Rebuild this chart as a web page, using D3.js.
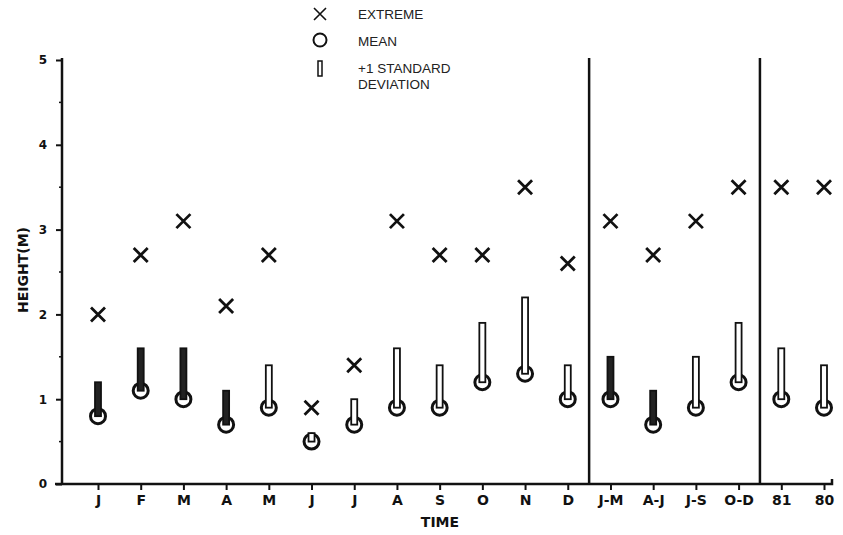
<!DOCTYPE html>
<html><head><meta charset="utf-8">
<script src="https://cdn.jsdelivr.net/npm/d3@7/dist/d3.min.js"></script>
<style>
body{margin:0;background:#fff;}
svg{display:block;}
.tk{font-family:"DejaVu Sans",sans-serif;font-weight:bold;font-size:13px;fill:#111;}
.lg{font-family:"Liberation Sans",Arial,sans-serif;font-size:13.5px;fill:#222;}
</style></head>
<body>
<svg id="c" width="843" height="535"></svg>
<script>
const categories = ["J","F","M","A","M","J","J","A","S","O","N","D","J-M","A-J","J-S","O-D","81","80"];
const meanValues = [0.8,1.1,1.0,0.7,0.9,0.5,0.7,0.9,0.9,1.2,1.3,1.0,1.0,0.7,0.9,1.2,1.0,0.9];
const sdTopValues = [1.2,1.6,1.6,1.1,1.4,0.6,1.0,1.6,1.4,1.9,2.2,1.4,1.5,1.1,1.5,1.9,1.6,1.4];
const extremeValues = [2.0,2.7,3.1,2.1,2.7,0.9,1.4,3.1,2.7,2.7,3.5,2.6,3.1,2.7,3.1,3.5,3.5,3.5];
const yTicks = [0,1,2,3,4,5];
const separatorIdx = [11,15];
const darkBars = [0,1,2,3,12,13];

const svg = d3.select("#c");
const ink = "#111";
const idx = categories.map((d,i)=>i);
const x = d3.scalePoint().domain(idx).range([98,824]);
const y = d3.scaleLinear().domain([0,5]).range([484,60]);

// Y axis
const yAxis = d3.axisLeft(y).tickValues(yTicks).tickFormat(d3.format("d")).tickSize(6).tickPadding(9);
const gy = svg.append("g").attr("transform","translate(62,0)").call(yAxis);
gy.select(".domain").attr("stroke",ink).attr("stroke-width",2.5).attr("d","M0,58V484");
gy.selectAll(".tick line").attr("stroke",ink).attr("stroke-width",2);
gy.selectAll(".tick text").attr("class","tk").style("font-size","12px");
// minor ticks
svg.append("g").selectAll("line").data([0.5,1.5,2.5,3.5,4.5]).join("line")
  .attr("x1",59).attr("x2",62).attr("y1",d=>y(d)).attr("y2",d=>y(d))
  .attr("stroke",ink).attr("stroke-width",1.5);

// X axis
const xAxis = d3.axisBottom(x).tickFormat(i=>categories[i]).tickSize(6).tickPadding(5);
const gx = svg.append("g").attr("transform","translate(0,484)").call(xAxis);
gx.select(".domain").attr("stroke",ink).attr("stroke-width",2.5).attr("d","M55,0H832V-5");
gx.selectAll(".tick line").attr("stroke",ink).attr("stroke-width",2);
gx.selectAll(".tick text").attr("class","tk").style("font-size","14px");

// separators
svg.append("g").selectAll("line").data(separatorIdx).join("line")
  .attr("x1",d=>(x(d)+x(d+1))/2).attr("x2",d=>(x(d)+x(d+1))/2)
  .attr("y1",58).attr("y2",484).attr("stroke",ink).attr("stroke-width",2.5);

// axis titles
svg.append("text").attr("class","tk").attr("transform","translate(28,270) rotate(-90)")
  .attr("text-anchor","middle").style("font-size","14px").text("HEIGHT(M)");
svg.append("text").attr("class","tk").attr("x",440).attr("y",527)
  .attr("text-anchor","middle").style("font-size","14px").text("TIME");

// marks
const g = svg.append("g");
// mean circles
g.selectAll("circle.mean").data(idx).join("circle").attr("class","mean")
  .attr("cx",i=>x(i)).attr("cy",i=>y(meanValues[i])).attr("r",7.5)
  .attr("fill","#fff").attr("stroke",ink).attr("stroke-width",3);
// sd bars
g.selectAll("rect.sd").data(idx).join("rect").attr("class","sd")
  .attr("x",i=>x(i)-3).attr("width",6)
  .attr("y",i=>y(sdTopValues[i])).attr("height",i=>y(meanValues[i])-y(sdTopValues[i]))
  .attr("fill",i=>darkBars.includes(i)?"#222":"#fff").attr("stroke",ink).attr("stroke-width",1.8);
// extremes
const xs = 7;
g.selectAll("path.ext").data(idx).join("path").attr("class","ext")
  .attr("d",i=>{const cx=x(i), cy=y(extremeValues[i]);
    return `M${cx-xs},${cy-xs}L${cx+xs},${cy+xs}M${cx-xs},${cy+xs}L${cx+xs},${cy-xs}`;})
  .attr("stroke",ink).attr("stroke-width",2.8).attr("fill","none");

// legend
const lg = svg.append("g");
lg.append("path").attr("d","M314,8L326,20M314,20L326,8").attr("stroke",ink).attr("stroke-width",1.6);
lg.append("circle").attr("cx",320).attr("cy",40).attr("r",6.5).attr("fill","none").attr("stroke",ink).attr("stroke-width",2);
lg.append("rect").attr("x",318).attr("y",61).attr("width",4).attr("height",15).attr("fill","#fff").attr("stroke",ink).attr("stroke-width",1.5);
lg.append("text").attr("class","lg").attr("x",358).attr("y",19).text("EXTREME");
lg.append("text").attr("class","lg").attr("x",358).attr("y",46).text("MEAN");
lg.append("text").attr("class","lg").attr("x",358).attr("y",73).text("+1 STANDARD");
lg.append("text").attr("class","lg").attr("x",358).attr("y",89).text("DEVIATION");
</script>
</body></html>
